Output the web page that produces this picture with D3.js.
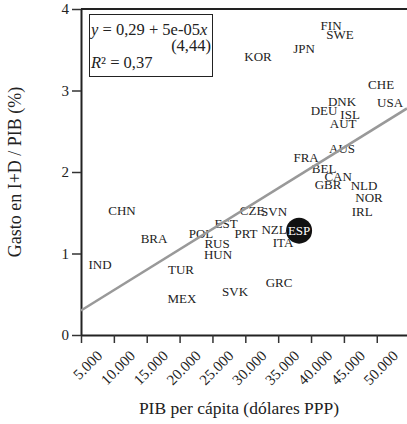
<!DOCTYPE html>
<html>
<head>
<meta charset="utf-8">
<script src="https://cdn.jsdelivr.net/npm/d3@7/dist/d3.min.js"></script>
<style>
  body { margin: 0; background: #fff; }
  text { font-family: "Liberation Serif", "Times New Roman", serif; fill: #222; }
</style>
</head>
<body>
<div class="chart"></div>
<script>
var svgWidth = 407;
var svgHeight = 424;

// country codes, GDP per capita (PPP $) and R&D spending (% of GDP)
var countries = ["FIN", "SWE", "KOR", "JPN", "CHE", "DNK", "USA", "DEU", "ISL", "AUT",
  "AUS", "FRA", "BEL", "CAN", "GBR", "NLD", "NOR", "IRL", "CHN", "CZE",
  "SVN", "EST", "BRA", "POL", "PRT", "NZL", "ESP", "ITA", "RUS", "HUN",
  "IND", "TUR", "SVK", "GRC", "MEX"];
var gdp = [43050, 44420, 31940, 38940, 50660, 44720, 52030, 41980, 45940, 44880,
  44720, 39250, 41980, 44120, 42590, 48070, 48830, 47770, 11240, 31030,
  34370, 27070, 16110, 23260, 30110, 34370, 38180, 35740, 25700, 25850,
  7890, 20220, 28440, 35140, 20370];
var rd = [3.80, 3.69, 3.42, 3.51, 3.07, 2.87, 2.85, 2.76, 2.71, 2.59,
  2.29, 2.18, 2.04, 1.95, 1.85, 1.84, 1.69, 1.52, 1.53, 1.53,
  1.52, 1.37, 1.18, 1.24, 1.24, 1.30, 1.28, 1.13, 1.12, 0.99,
  0.87, 0.81, 0.54, 0.64, 0.45];
var highlight = "ESP";

var xTicks = [5000, 10000, 15000, 20000, 25000, 30000, 35000, 40000, 45000, 50000];
var yTicks = [0, 1, 2, 3, 4];

// fitted line as drawn (value at both ends of the x range)
var fitX = [5000, 54600];
var fitY = [0.30, 2.78];

var margin = { top: 9, left: 81, bottom: 335 };

var x = d3.scaleLinear().domain([5000, 54600]).range([margin.left, svgWidth]);
var y = d3.scaleLinear().domain([0, 4]).range([margin.bottom, margin.top]);

var svg = d3.select(".chart").append("svg")
  .attr("width", svgWidth)
  .attr("height", svgHeight);

var fmt = function(d) { return d3.format(",")(d).replace(/,/g, "."); };

// x axis
var xAxis = svg.append("g")
  .attr("transform", "translate(0," + margin.bottom + ")")
  .call(d3.axisBottom(x).tickValues(xTicks).tickSize(8).tickSizeOuter(0).tickFormat(fmt));
xAxis.select(".domain").attr("stroke", "#222").attr("stroke-width", 2);
xAxis.selectAll(".tick line").attr("stroke", "#333").attr("stroke-width", 1.5);
xAxis.selectAll(".tick text")
  .style("font-family", "Liberation Serif")
  .style("font-size", "15px")
  .attr("fill", "#222")
  .attr("text-anchor", "end")
  .attr("x", 0)
  .attr("y", 0)
  .attr("dy", "0.35em")
  .attr("transform", "translate(18,18) rotate(-45)");

// y axis
var yAxis = svg.append("g")
  .attr("transform", "translate(" + margin.left + ",0)")
  .call(d3.axisLeft(y).tickValues(yTicks).tickSize(9).tickSizeOuter(0).tickFormat(d3.format("d")));
yAxis.select(".domain").attr("stroke", "#222").attr("stroke-width", 2);
yAxis.selectAll(".tick line").attr("stroke", "#333").attr("stroke-width", 1.5);
yAxis.selectAll(".tick text")
  .style("font-family", "Liberation Serif")
  .style("font-size", "15px")
  .attr("fill", "#222");

// top frame line
svg.append("line")
  .attr("x1", margin.left).attr("x2", svgWidth)
  .attr("y1", y(4)).attr("y2", y(4))
  .attr("stroke", "#222").attr("stroke-width", 2);

// highlighted point
var hi = countries.indexOf(highlight);
svg.append("circle")
  .attr("cx", x(gdp[hi]))
  .attr("cy", y(rd[hi]))
  .attr("r", 13)
  .attr("fill", "#111");

// country labels
svg.append("g").selectAll("text")
  .data(countries)
  .enter()
  .append("text")
  .attr("x", function(d, i) { return x(gdp[i]); })
  .attr("y", function(d, i) { return y(rd[i]); })
  .attr("dy", "0.35em")
  .attr("text-anchor", "middle")
  .style("font-size", "13px")
  .style("fill", function(d) { return d === highlight ? "#fff" : "#222"; })
  .text(function(d) { return d; });

// regression line
svg.append("line")
  .attr("x1", x(fitX[0])).attr("y1", y(fitY[0]))
  .attr("x2", x(fitX[1])).attr("y2", y(fitY[1]))
  .attr("stroke", "#999")
  .attr("stroke-width", 2.5);

// equation box
svg.append("rect")
  .attr("x", 89.5).attr("y", 14.5)
  .attr("width", 123).attr("height", 62)
  .attr("fill", "#fff")
  .attr("stroke", "#222");

var eq = svg.append("text").attr("x", 91).attr("y", 35).style("font-size", "16.5px");
eq.append("tspan").style("font-style", "italic").text("y");
eq.append("tspan").text(" = 0,29 + 5e-05");
eq.append("tspan").style("font-style", "italic").text("x");

svg.append("text").attr("x", 211).attr("y", 51)
  .attr("text-anchor", "end").style("font-size", "16.5px").text("(4,44)");

var r2 = svg.append("text").attr("x", 91).attr("y", 68).style("font-size", "16.5px");
r2.append("tspan").style("font-style", "italic").text("R");
r2.append("tspan").text("² = 0,37");

// axis titles
svg.append("text")
  .attr("transform", "translate(21," + 172 + ") rotate(-90)")
  .attr("text-anchor", "middle")
  .style("font-size", "18px")
  .text("Gasto en I+D / PIB (%)");

svg.append("text")
  .attr("x", 239)
  .attr("y", 414)
  .attr("text-anchor", "middle")
  .style("font-size", "17.5px")
  .text("PIB per cápita (dólares PPP)");
</script>
</body>
</html>
